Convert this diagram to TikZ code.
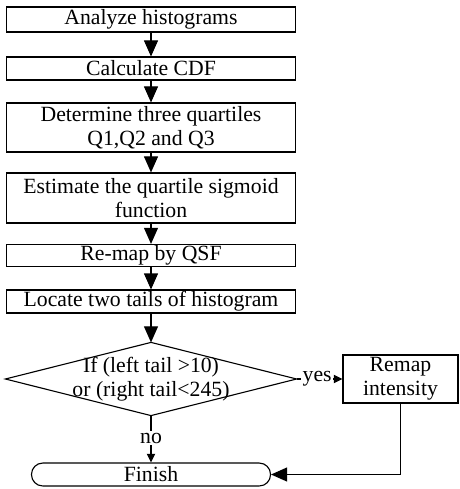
\documentclass[tikz,border=0pt]{standalone}
\usepackage{fontspec}
\setmainfont{Liberation Serif}
\usetikzlibrary{arrows.meta}
\newcommand{\pxu}{0.58pt}

\begin{document}
\begin{tikzpicture}[x=\pxu,y=-\pxu,font=\fontsize{12.6}{13.8}\selectfont,
    every node/.style={line width=0.65pt,align=center,inner sep=0pt},
    stepbox/.style={draw,minimum width=167.6pt},
    flow/.style={-{Triangle[length=9.3pt,width=8.1pt]},line width=0.65pt},
    small/.style={-{Triangle[length=5pt,width=4.8pt]},line width=0.65pt}]
  \useasboundingbox (0,0) rectangle (459,489);
  \node [stepbox,minimum height=14.5pt] (A) at (151,19.5) {Analyze histograms};
  \node [stepbox,minimum height=13.3pt] (B) at (151,68.5) {Calculate CDF};
  \node [stepbox,minimum height=28.4pt] (C) at (151,127.5) {Determine three quartiles\\Q1,Q2 and Q3};
  \node [stepbox,minimum height=29pt] (D) at (151,198) {Estimate the quartile sigmoid\\function};
  \node [stepbox,minimum height=12.8pt] (E) at (151,255.5) {Re-map by QSF};
  \node [stepbox,minimum height=13.3pt] (F) at (151,301.5) {Locate two tails of histogram};
  \node [minimum width=168.2pt,minimum height=41.8pt] (G) at (151,379) {If (left tail >10)\\or (right tail<245)};
  \draw [line width=0.65pt] (G.north) -- (G.east) -- (G.south) -- (G.west) -- cycle;
  \node [draw,minimum width=66.7pt,minimum height=27.8pt] (I) at (400.5,379) {Remap\\intensity};
  \node [draw,rounded corners=6.5pt,minimum width=138.6pt,minimum height=13.3pt] (H) at (151,474.5) {Finish};
  \draw [flow] (A) -- (B);
  \draw [flow] (B) -- (C);
  \draw [flow] (C) -- (D);
  \draw [flow] (D) -- (E);
  \draw [flow] (E) -- (F);
  \draw [flow] (F) -- (G.north);
  \draw [small] (G.east) to node [fill=white,inner sep=1pt,pos=0.45] {yes} (I.west);
  \draw [small] (G.south) to node [fill=white,inner sep=1pt,pos=0.48] {no} (H.north);
  \draw [flow] (I) |- (H);
\end{tikzpicture}
\end{document}
